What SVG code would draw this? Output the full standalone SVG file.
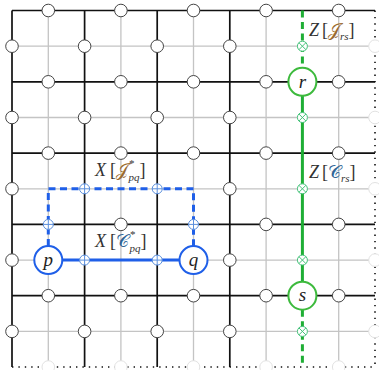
<svg xmlns="http://www.w3.org/2000/svg" width="379" height="370" viewBox="0 0 379 370">
<style>
.grey{stroke:#c4c4c4;stroke-width:1.3;fill:none}
.blk{stroke:#111;stroke-width:1.7;fill:none}
.dot{stroke:#111;stroke-width:1.6;stroke-dasharray:1.4 5;fill:none}
.qb{fill:#fff;stroke:#444;stroke-width:1}
.qf{fill:#fff;stroke:#e2e2e2;stroke-width:1}
.bsol{stroke:#1f5fe8;stroke-width:3;fill:none}
.bdash{stroke:#1f5fe8;stroke-width:3;fill:none;stroke-dasharray:7 4.5}
.gsol{stroke:#1fae35;stroke-width:3;fill:none}
.gdash{stroke:#1fae35;stroke-width:3;fill:none;stroke-dasharray:7 4.5}
.bnode{fill:#fff;stroke:#1f5fe8;stroke-width:2}
.gnode{fill:#fff;stroke:#3dba3d;stroke-width:2}
.op{fill:#fff;stroke:#5b8fdc;stroke-width:1}
.opl{stroke:#5b8fdc;stroke-width:1;fill:none}
.ot{fill:#fff;stroke:#45c27a;stroke-width:1}
.otl{stroke:#45c27a;stroke-width:1;fill:none}
.nl{font-family:"Liberation Serif",serif;font-style:italic;font-size:19px;fill:#222;text-anchor:middle}
.lbl{font-family:"Liberation Serif","DejaVu Serif",serif;font-size:18px;fill:#333}
.it{font-style:italic}
.J{fill:#9b6b2f}
.C{fill:#2f6496}
.sm{font-size:11px}
.st{font-size:11px}
</style>
<defs>
<g id="oplus"><circle class="op" r="5"/><path class="opl" d="M-5,0H5M0,-5V5"/></g>
<g id="otimes"><circle class="ot" r="5"/><path class="otl" d="M-3.5,-3.5L3.5,3.5M-3.5,3.5L3.5,-3.5"/></g>
</defs>

<g id="lattice">
<path class="grey" d="M48.3,10.5V367M120.9,10.5V367M193.5,10.5V367M266.1,10.5V367M338.7,10.5V367M12,46.2H375M12,117.5H375M12,188.8H375M12,260.1H375M12,331.4H375"/>
<path class="blk" d="M12,10.5H375M12,81.8H375M12,153.1H375M12,224.4H375M12,295.7H375M12,10.5V367M84.6,10.5V367M157.2,10.5V367M229.8,10.5V367"/>
<path class="dot" d="M375,10.5V367M12,367H375"/>
</g>

<g id="connectors">
<path class="bsol" d="M62.3,260.1H179.5"/>
<path class="bdash" d="M48.3,246.1V188.8H193.5V246.1"/>
<path class="gdash" d="M302.4,10.5V67.8"/>
<path class="gsol" d="M302.4,95.8V281.7"/>
<path class="gdash" d="M302.4,309.7V367"/>
</g>

<g id="qubits">
<circle class="qb" cx="48.3" cy="10.5" r="6.3"/><circle class="qb" cx="120.9" cy="10.5" r="6.3"/><circle class="qb" cx="193.5" cy="10.5" r="6.3"/><circle class="qb" cx="266.1" cy="10.5" r="6.3"/><circle class="qb" cx="338.7" cy="10.5" r="6.3"/>
<circle class="qb" cx="48.3" cy="81.8" r="6.3"/><circle class="qb" cx="120.9" cy="81.8" r="6.3"/><circle class="qb" cx="193.5" cy="81.8" r="6.3"/><circle class="qb" cx="266.1" cy="81.8" r="6.3"/><circle class="qb" cx="338.7" cy="81.8" r="6.3"/>
<circle class="qb" cx="48.3" cy="153.1" r="6.3"/><circle class="qb" cx="120.9" cy="153.1" r="6.3"/><circle class="qb" cx="193.5" cy="153.1" r="6.3"/><circle class="qb" cx="266.1" cy="153.1" r="6.3"/><circle class="qb" cx="338.7" cy="153.1" r="6.3"/>
<circle class="qb" cx="120.9" cy="224.4" r="6.3"/><circle class="qb" cx="266.1" cy="224.4" r="6.3"/><circle class="qb" cx="338.7" cy="224.4" r="6.3"/>
<circle class="qb" cx="48.3" cy="295.7" r="6.3"/><circle class="qb" cx="120.9" cy="295.7" r="6.3"/><circle class="qb" cx="193.5" cy="295.7" r="6.3"/><circle class="qb" cx="266.1" cy="295.7" r="6.3"/><circle class="qb" cx="338.7" cy="295.7" r="6.3"/>
<circle class="qb" cx="12" cy="46.2" r="6.3"/><circle class="qb" cx="84.6" cy="46.2" r="6.3"/><circle class="qb" cx="157.2" cy="46.2" r="6.3"/><circle class="qb" cx="229.8" cy="46.2" r="6.3"/>
<circle class="qb" cx="12" cy="117.5" r="6.3"/><circle class="qb" cx="84.6" cy="117.5" r="6.3"/><circle class="qb" cx="157.2" cy="117.5" r="6.3"/><circle class="qb" cx="229.8" cy="117.5" r="6.3"/>
<circle class="qb" cx="12" cy="188.8" r="6.3"/><circle class="qb" cx="229.8" cy="188.8" r="6.3"/>
<circle class="qb" cx="12" cy="260.1" r="6.3"/><circle class="qb" cx="229.8" cy="260.1" r="6.3"/>
<circle class="qb" cx="12" cy="331.4" r="6.3"/><circle class="qb" cx="84.6" cy="331.4" r="6.3"/><circle class="qb" cx="157.2" cy="331.4" r="6.3"/><circle class="qb" cx="229.8" cy="331.4" r="6.3"/>
<circle class="qf" cx="48.3" cy="367" r="6.3"/><circle class="qf" cx="120.9" cy="367" r="6.3"/><circle class="qf" cx="193.5" cy="367" r="6.3"/><circle class="qf" cx="266.1" cy="367" r="6.3"/><circle class="qf" cx="338.7" cy="367" r="6.3"/>
<circle class="qf" cx="375" cy="46.2" r="6.3"/><circle class="qf" cx="375" cy="117.5" r="6.3"/><circle class="qf" cx="375" cy="188.8" r="6.3"/><circle class="qf" cx="375" cy="260.1" r="6.3"/><circle class="qf" cx="375" cy="331.4" r="6.3"/>
</g>

<g id="x-ops">
<use href="#oplus" x="84.6" y="260.1"/><use href="#oplus" x="157.2" y="260.1"/>
<use href="#oplus" x="48.3" y="224.4"/><use href="#oplus" x="193.5" y="224.4"/>
<use href="#oplus" x="84.6" y="188.8"/><use href="#oplus" x="157.2" y="188.8"/>
</g>
<g id="z-ops">
<use href="#otimes" x="302.4" y="46.2"/><use href="#otimes" x="302.4" y="117.5"/><use href="#otimes" x="302.4" y="188.8"/><use href="#otimes" x="302.4" y="260.1"/><use href="#otimes" x="302.4" y="331.4"/>
</g>

<g id="node-p"><circle class="bnode" cx="48.3" cy="260.1" r="14"/><text class="nl" x="48.3" y="265.5">p</text></g>
<g id="node-q"><circle class="bnode" cx="193.5" cy="260.1" r="14"/><text class="nl" x="193.5" y="265.5">q</text></g>
<g id="node-r"><circle class="gnode" cx="302.4" cy="81.8" r="14"/><text class="nl" x="302.4" y="87.5">r</text></g>
<g id="node-s"><circle class="gnode" cx="302.4" cy="295.7" r="14"/><text class="nl" x="302.4" y="301">s</text></g>

<g id="labels">
<text class="lbl" x="95" y="176"><tspan class="it">X</tspan><tspan dx="4">[</tspan><tspan class="J">𝒥</tspan><tspan class="st" dx="1" dy="-9">*</tspan><tspan class="sm it" dx="-6" dy="14">pq</tspan><tspan dy="-5">]</tspan></text>
<text class="lbl" x="95" y="247"><tspan class="it">X</tspan><tspan dx="4">[</tspan><tspan class="C">𝒞</tspan><tspan class="st" dx="1" dy="-9">*</tspan><tspan class="sm it" dx="-6" dy="14">pq</tspan><tspan dy="-5">]</tspan></text>
<text class="lbl" x="309" y="36"><tspan class="it">Z</tspan><tspan dx="3">[</tspan><tspan class="J">𝒥</tspan><tspan class="sm it" dy="4">rs</tspan><tspan dy="-4">]</tspan></text>
<text class="lbl" x="309" y="178"><tspan class="it">Z</tspan><tspan dx="3">[</tspan><tspan class="C">𝒞</tspan><tspan class="sm it" dy="4">rs</tspan><tspan dy="-4">]</tspan></text>
</g>
</svg>
